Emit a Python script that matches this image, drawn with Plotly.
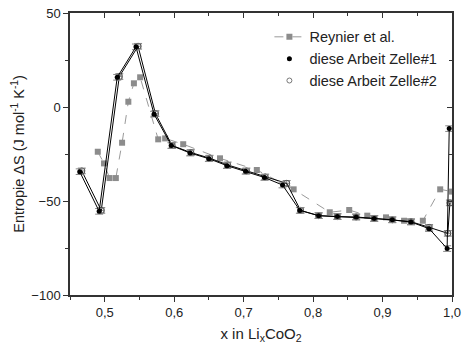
import plotly.graph_objects as go

# Reynier et al.
x_rey = [0.490, 0.499, 0.507, 0.516, 0.525, 0.534, 0.542, 0.551, 0.577, 0.587, 0.613,
         0.666, 0.719, 0.772, 0.824, 0.852, 0.878, 0.905, 0.931, 0.958, 0.983, 1.000]
y_rey = [-23.8, -30.0, -37.8, -37.8, -19.0, 2.8, 12.6, 15.8, -17.2, -16.7, -19.8,
         -27.3, -33.5, -43.8, -56.0, -54.8, -57.8, -58.7, -60.5, -60.5, -43.8, -45.0]

# diese Arbeit Zelle#1
x_z1 = [0.464, 0.492, 0.518, 0.545, 0.571, 0.596, 0.623, 0.650, 0.676, 0.703, 0.730,
        0.756, 0.781, 0.808, 0.835, 0.862, 0.888, 0.914, 0.941, 0.967, 0.993, 0.996]
y_z1 = [-34.4, -55.5, 15.8, 32.0, -3.8, -20.5, -24.5, -27.5, -31.2, -34.2, -37.5,
        -41.5, -55.0, -57.8, -58.3, -58.5, -59.3, -60.0, -61.2, -64.7, -75.3, -11.5]
err_z1 = [1.5] * len(x_z1)

# diese Arbeit Zelle#2
x_z2 = [0.467, 0.495, 0.521, 0.548, 0.573, 0.597, 0.624, 0.651, 0.677, 0.704, 0.731,
        0.762, 0.782, 0.808, 0.835, 0.862, 0.888, 0.914, 0.941, 0.967, 0.994, 0.997]
y_z2 = [-34.0, -55.0, 16.2, 32.3, -3.5, -20.5, -24.2, -27.2, -30.8, -34.0, -37.2,
        -40.6, -55.0, -57.8, -58.3, -58.5, -59.3, -60.0, -61.0, -64.0, -67.2, -51.0]
err_z2 = [1.5] * len(x_z2)

names = ["Reynier et al.", "diese Arbeit Zelle#1", "diese Arbeit Zelle#2"]

fig = go.Figure()

fig.add_trace(go.Scatter(
    x=x_rey, y=y_rey, mode="lines+markers", name=names[0],
    line=dict(color="#9a9a9a", width=1, dash="dash"),
    marker=dict(symbol="square", size=6, color="#8c8c8c"),
    showlegend=True,
))

fig.add_trace(go.Scatter(
    x=x_z2, y=y_z2, mode="lines+markers", name=names[2],
    line=dict(color="black", width=1),
    marker=dict(symbol="circle-open", size=6, color="#555", line=dict(width=1)),
    error_y=dict(type="data", array=err_z2, color="#888", thickness=1, width=4),
    error_x=dict(type="constant", value=0.004, color="#888", thickness=1, width=3),
    showlegend=False,
))

fig.add_trace(go.Scatter(
    x=x_z1, y=y_z1, mode="lines+markers", name=names[1],
    line=dict(color="black", width=1),
    marker=dict(symbol="circle", size=5, color="black"),
    error_y=dict(type="data", array=err_z1, color="#888", thickness=1, width=4),
    showlegend=False,
))

# legend-only entries (marker only)
fig.add_trace(go.Scatter(x=[None], y=[None], mode="markers", name=names[1],
                         marker=dict(symbol="circle", size=5, color="black")))
fig.add_trace(go.Scatter(x=[None], y=[None], mode="markers", name=names[2],
                         marker=dict(symbol="circle-open", size=5, color="#777")))

axis_col = "#333"
fig.update_layout(
    width=463, height=347,
    margin=dict(l=70, r=11, t=13, b=52),
    paper_bgcolor="white", plot_bgcolor="white",
    separators=",.",
    font=dict(family="Liberation Sans, Arial, sans-serif", color="#222", size=13),
    showlegend=True,
    legend=dict(x=0.522, y=0.972, xanchor="left", yanchor="top",
                bgcolor="rgba(0,0,0,0)", font=dict(size=14.5), tracegroupgap=0,
                itemwidth=30),
    xaxis=dict(range=[0.45, 1.0], tick0=0.5, dtick=0.1, tickformat=".1f",
               automargin=False,
               showgrid=False, zeroline=False, showline=True, linecolor=axis_col,
               linewidth=1.5, ticks="outside", ticklen=5, tickcolor=axis_col,
               minor=dict(dtick=0.05, tick0=0.45, ticks="outside", ticklen=3, tickcolor=axis_col),
               title=dict(text="x in Li<sub>x</sub>CoO<sub>2</sub>", font=dict(size=15), standoff=9)),
    yaxis=dict(range=[-100, 50], dtick=50, showgrid=False, zeroline=False,
               automargin=False,
               showline=True, linecolor=axis_col, linewidth=1.5,
               ticks="outside", ticklen=5, tickcolor=axis_col,
               minor=dict(dtick=25, ticks="outside", ticklen=3, tickcolor=axis_col),
               title=dict(text="Entropie ΔS (J mol<sup>-1</sup> K<sup>-1</sup>)",
                          font=dict(size=14.5), standoff=3)),
    xaxis2=dict(range=[0.45, 1.0], overlaying="x", side="top", tick0=0.5, dtick=0.1,
                automargin=False,
                showticklabels=False, showgrid=False, zeroline=False, showline=True,
                linecolor=axis_col, linewidth=1.5, ticks="inside", ticklen=5, tickcolor=axis_col,
                minor=dict(dtick=0.05, tick0=0.45, ticks="inside", ticklen=3, tickcolor=axis_col)),
    yaxis2=dict(range=[-100, 50], overlaying="y", side="right", dtick=50,
                automargin=False,
                showticklabels=False, showgrid=False, zeroline=False, showline=True,
                linecolor=axis_col, linewidth=1.5, ticks="inside", ticklen=5, tickcolor=axis_col,
                minor=dict(dtick=25, ticks="inside", ticklen=3, tickcolor=axis_col)),
)

# invisible trace to activate the mirrored axes
fig.add_trace(go.Scatter(x=[None], y=[None], xaxis="x2", yaxis="y2", showlegend=False,
                         hoverinfo="skip"))

fig.write_html("out.html", config={"displayModeBar": False},
               post_script="document.body.style.margin='0';document.body.style.overflow='hidden';")
